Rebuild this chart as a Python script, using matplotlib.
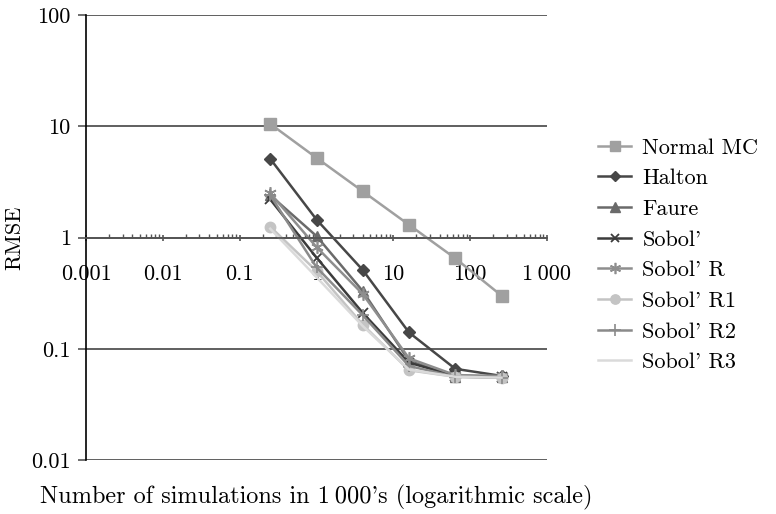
import matplotlib
matplotlib.use('Agg')
import matplotlib.pyplot as plt
from matplotlib.ticker import LogLocator, NullFormatter, NullLocator

plt.rcParams['font.family'] = ['cmr10', 'DejaVu Serif']
plt.rcParams['mathtext.fontset'] = 'cm'

# ---- data ----
sims = [0.25, 1, 4, 16, 64, 256]  # thousands of simulations
normal_mc = [10.5, 5.2, 2.6, 1.3, 0.65, 0.30]
halton = [5.1, 1.45, 0.51, 0.14, 0.066, 0.057]
faure = [2.4, 1.03, 0.33, 0.078, 0.056, 0.056]
sobol = [2.2, 0.66, 0.21, 0.075, 0.057, 0.056]
sobol_r = [2.5, 0.82, 0.31, 0.082, 0.058, 0.057]
sobol_r1 = [1.25, 0.50, 0.165, 0.064, 0.056, 0.055]
sobol_r2 = [2.4, 0.54, 0.20, 0.070, 0.056, 0.055]
sobol_r3 = [1.2, 0.44, 0.16, 0.065, 0.056, 0.055]

series_names = ["Normal MC", "Halton", "Faure", "Sobol'", "Sobol' R",
                "Sobol' R1", "Sobol' R2", "Sobol' R3"]
series_vals = [normal_mc, halton, faure, sobol, sobol_r, sobol_r1, sobol_r2, sobol_r3]

xticks = [0.001, 0.01, 0.1, 1, 10, 100, 1000]
xticklabels = ["0.001", "0.01", "0.1", "1", "10", "100", "1\u2009000"]
yticks = [0.01, 0.1, 1, 10, 100]
yticklabels = ["0.01", "0.1", "1", "10", "100"]

styles = [
    dict(color='#a0a0a0', marker='s', ms=8),
    dict(color='#474747', marker='D', ms=6),
    dict(color='#6a6a6a', marker='^', ms=7.5),
    dict(color='#3c3c3c', marker='x', ms=7, mew=1.3),
    dict(color='#8e8e8e', marker=(6, 2, 0), ms=9, mew=1.2),
    dict(color='#c4c4c4', marker='o', ms=7.5),
    dict(color='#8a8a8a', marker='+', ms=9, mew=1.2),
    dict(color='#dadada', marker=None),
]

W, H = 776, 514
fig = plt.figure(figsize=(W / 100, H / 100), dpi=100)
ax = fig.add_axes([86 / W, 1 - 460 / H, (547 - 86) / W, (460 - 15) / H])
ax.set_xscale('log')
ax.set_yscale('log')

handles = []
for name, vals, st in zip(series_names, series_vals, styles):
    h, = ax.plot(sims, vals, lw=1.8, label=name, clip_on=False, **st)
    handles.append(h)

ax.set_xlim(0.001, 1000)
ax.set_ylim(0.01, 100)

for s in ['top', 'right']:
    ax.spines[s].set_visible(False)
ax.spines['bottom'].set_position(('data', 1))
ax.spines['bottom'].set_color('#555555')
ax.spines['bottom'].set_linewidth(1.3)
ax.spines['left'].set_color('black')
ax.spines['left'].set_linewidth(1.2)

ax.set_yticks(yticks)
ax.set_yticklabels(yticklabels)
ax.yaxis.set_minor_locator(NullLocator())
ax.set_xticks(xticks)
ax.set_xticklabels(xticklabels)
ax.xaxis.set_minor_locator(LogLocator(base=10, subs=[2, 3, 4, 5, 6, 7, 8, 9], numticks=20))
ax.xaxis.set_minor_formatter(NullFormatter())

ax.grid(axis='y', which='major', color='#444444', lw=1.2)
ax.set_axisbelow(True)
ax.tick_params(axis='y', direction='out', length=6, width=1.2, pad=5, labelsize=16, color='#555555')
ax.tick_params(axis='x', which='major', direction='inout', length=5, width=1.2, pad=17, labelsize=16, color='#555555')
ax.tick_params(axis='x', which='minor', direction='in', length=3, width=1.0, color='#555555')

fig.text(15 / W, 1 - 238 / H, 'RMSE', rotation=90, ha='center', va='center', fontsize=16)
fig.text(316 / W, 1 - 497 / H, "Number of simulations in 1\u2009000's (logarithmic scale)",
         ha='center', va='center', fontsize=17.5)

fig.legend(handles=handles, loc='upper left', bbox_to_anchor=(598 / W, 1 - 138 / H),
           frameon=False, fontsize=16, handlelength=1.5, handletextpad=0.5,
           labelspacing=0.5, borderpad=0, borderaxespad=0, markerscale=0.9)

fig.savefig('out.png', dpi=100)
